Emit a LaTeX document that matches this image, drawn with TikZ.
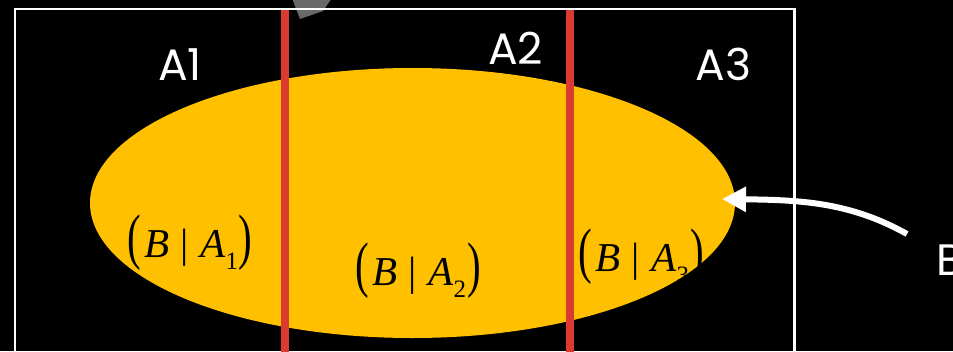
\documentclass[tikz,border=0pt]{standalone}
\usepackage{graphicx}
\usepackage{fontspec}
\setmainfont{Liberation Serif}
\newfontfamily\labfont{Poppins}
\usetikzlibrary{arrows.meta,shapes.geometric}
\definecolor{ellyellow}{RGB}{255,192,0}
\definecolor{partred}{RGB}{218,58,48}
\definecolor{markgrey}{RGB}{105,105,105}
\newcommand\condlabel[1]{\fontsize{41}{43}\selectfont\scalebox{1}[1.5]{(}\hspace{0.08em}\textit{B}\hspace{0.28em}|\hspace{0.28em}\textit{A}\raisebox{-0.3em}{\fontsize{25}{25}\selectfont #1}\hspace{0.02em}\scalebox{1}[1.5]{)}}
\tikzset{
  setlabel/.style={text=white, font=\labfont\fontsize{44}{44}\selectfont, inner sep=0pt, anchor=base},
  condnode/.style={text=black, inner sep=0pt},
  partline/.style={draw=partred, line width=8pt},
}
\begin{document}
\begin{tikzpicture}[x=1pt,y=-1pt]
\fill[black] (0,0) rectangle (953,351);
\useasboundingbox (0,0) rectangle (953,351);
\clip (0,0) rectangle (953,351);
% grey fragment at the top
\fill[markgrey] (292,-2) -- (332,-2) -- (323,11) -- (300,19) -- cycle;
% white frame
\draw[white, line width=2.5pt] (15,380) -- (15,9) -- (794.5,9) -- (794.5,380);
% event B
\node[ellipse, fill=ellyellow, minimum width=645pt, minimum height=270pt, inner sep=0pt] (ell) at (412.5,203) {};
% partition lines
\coordinate (l1t) at (285,10);
\coordinate (l1b) at (285,360);
\coordinate (l2t) at (570,10);
\coordinate (l2b) at (570,360);
\draw[partline] (l1t) -- (l1b);
\draw[partline] (l2t) -- (l2b);
% labels
\node[setlabel] (a1) at (180,80) {A1};
\node[setlabel] (a2) at (515.5,64) {A2};
\node[setlabel] (a3) at (723.5,80) {A3};
\node[setlabel, anchor=base west] (b) at (936,275) {B};
% conditional labels
\node[condnode] (c1) at (190,242.5) {\condlabel{1}};
\node[condnode] (c2) at (418,270.5) {\condlabel{2}};
\node[condnode] (c3) at (641,256.5) {\condlabel{3}};
% arrow to B
\coordinate (arrstart) at (907,234);
\coordinate (arrend) at (722,199);
\draw[white, line width=6pt, -{Triangle[width=24pt,length=24pt]}] (arrstart) .. controls (850,202) and (800,200) .. (arrend);
\end{tikzpicture}
\end{document}
